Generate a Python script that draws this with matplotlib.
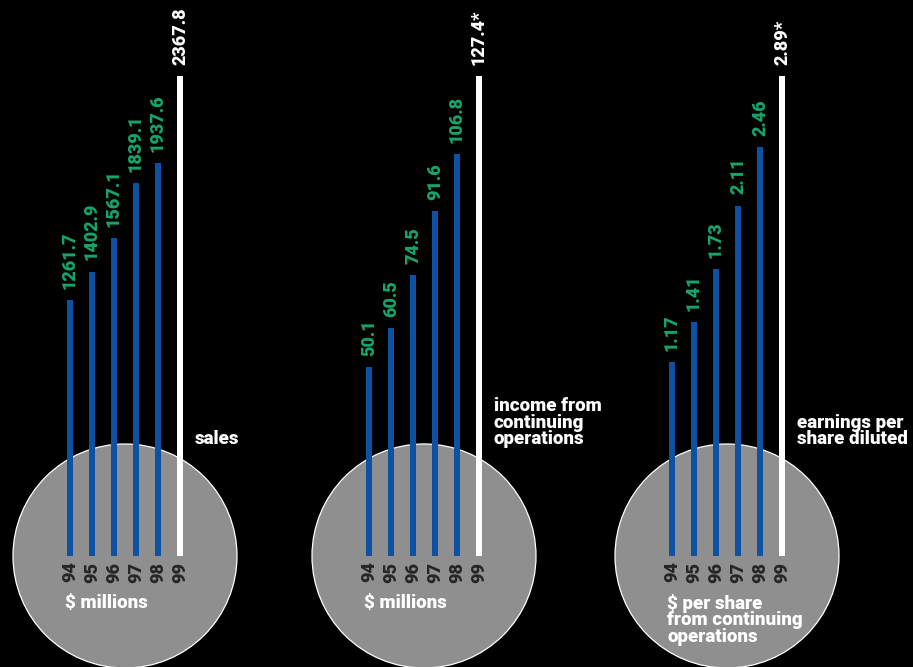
import matplotlib
matplotlib.use("Agg")
import matplotlib.pyplot as plt
from matplotlib.patches import Circle

plt.rcParams['font.family'] = ['Roboto', 'Liberation Sans', 'DejaVu Sans']

years = ['94', '95', '96', '97', '98', '99']
sales = [1261.7, 1402.9, 1567.1, 1839.1, 1937.6, 2367.8]
income = [50.1, 60.5, 74.5, 91.6, 106.8, 127.4]
eps = [1.17, 1.41, 1.73, 2.11, 2.46, 2.89]

sales_labels = ['1261.7', '1402.9', '1567.1', '1839.1', '1937.6', '2367.8']
income_labels = ['50.1', '60.5', '74.5', '91.6', '106.8', '127.4*']
eps_labels = ['1.17', '1.41', '1.73', '2.11', '2.46', '2.89*']

side_titles = ['sales', 'income from\ncontinuing\noperations', 'earnings per\nshare diluted']
units = ['$ millions', '$ millions', '$ per share\nfrom continuing\noperations']

BLUE = '#0e50a4'
GREEN = '#17a56a'
GRAY = '#8f8f8f'
YEARCOL = '#262626'
WT = 900

W, H = 913, 667
fig = plt.figure(figsize=(W / 100, H / 100), dpi=100, facecolor='black')

# background layer in pixel coords: circles and the static labels
bg = fig.add_axes([0, 0, 1, 1])
bg.set_xlim(0, W)
bg.set_ylim(H, 0)
bg.axis('off')
bg.set_facecolor('black')

first_bar = [70, 369, 672]   # pixel x of the '94 bar in each panel
step = 22
base_y = 556                 # pixel y of the bar baseline
top_y = 76                   # pixel y of the tallest bar
axes_top = 10

panels = [(sales, sales_labels), (income, income_labels), (eps, eps_labels)]

for k, (vals, labs) in enumerate(panels):
    x0 = first_bar[k]
    cx = x0 + step * 2.5
    bg.add_patch(Circle((cx, base_y), 112, facecolor=GRAY, edgecolor='white', lw=0.9, zorder=1))
    bg.text(x0 - 5, 594, units[k], color='white', fontsize=13.5, fontweight=WT,
            ha='left', va='top', linespacing=0.88)
    bg.text(x0 + step * 5 + 15, 448, side_titles[k], color='white', fontsize=13.5,
            fontweight=WT, ha='left', va='bottom', linespacing=0.88)

    left_px = x0 - step / 2
    ax = fig.add_axes([left_px / W, 1 - base_y / H, (step * 6) / W, (base_y - axes_top) / H])
    ax.patch.set_alpha(0)
    vmax = vals[-1]
    ax.set_ylim(0, vmax * (base_y - axes_top) / (base_y - top_y))
    ax.set_xlim(-0.5, 5.5)
    colors = [BLUE] * (len(vals) - 1) + ['white']
    ax.bar(range(len(vals)), vals, width=6 / step, color=colors, zorder=3)
    for i, (v, t) in enumerate(zip(vals, labs)):
        c = 'white' if i == len(vals) - 1 else GREEN
        ax.annotate(t, (i, v), xytext=(0, 8), textcoords='offset points',
                    rotation=90, ha='center', va='bottom', color=c,
                    fontsize=13, fontweight=WT)
    ax.set_xticks(range(len(years)))
    ax.set_xticklabels(years, rotation=90, color=YEARCOL, fontsize=13, fontweight=WT)
    ax.tick_params(axis='x', length=0, pad=4)
    ax.set_yticks([])
    for s in ax.spines.values():
        s.set_visible(False)

fig.savefig('out.png', dpi=100, facecolor='black')
